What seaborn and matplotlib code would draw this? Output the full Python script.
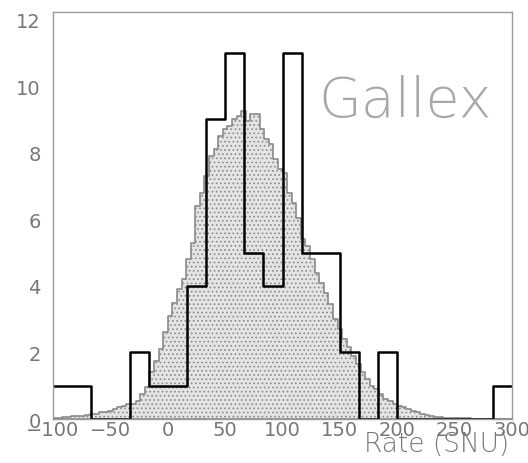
import matplotlib
matplotlib.use("Agg")
import matplotlib.pyplot as plt
import numpy as np
import pandas as pd
import seaborn as sns

# fine histogram (expected distribution), 4 SNU bins from -100 to 300
fine_centers = np.arange(-98, 300, 4)
fine_values = [
    0.03, 0.03, 0.05, 0.05, 0.08, 0.10, 0.10, 0.12, 0.15, 0.15,
    0.20, 0.22, 0.25, 0.30, 0.35, 0.40, 0.45, 0.45, 0.55, 0.75,
    0.95, 1.40, 1.75, 2.10, 2.60, 3.10, 3.50, 3.90, 4.20, 4.80,
    5.30, 6.40, 6.80, 7.30, 7.90, 8.10, 8.50, 8.70, 8.80, 9.00,
    9.10, 9.25, 8.95, 9.15, 9.15, 8.70, 8.40, 8.25, 7.80, 7.50,
    7.40, 6.80, 6.50, 6.05, 5.40, 5.20, 4.80, 4.40, 4.10, 3.80,
    3.45, 3.00, 2.70, 2.40, 2.15, 1.90, 1.65, 1.40, 1.20, 1.00,
    0.90, 0.75, 0.60, 0.55, 0.45, 0.40, 0.35, 0.30, 0.25, 0.20,
    0.15, 0.12, 0.10, 0.06, 0.05, 0.04, 0.03, 0.03, 0.02, 0.02,
    0.02, 0.01, 0.01, 0.01, 0.01, 0.00, 0.00, 0.00, 0.00, 0.00,
]

# measured runs, 24 bins from -100 to 300
run_counts = [1, 1, 0, 0, 2, 1, 1, 4, 9, 11, 5, 4, 11, 5, 5, 2, 0, 2, 0, 0, 0, 0, 0, 1]

fine_edges = np.linspace(-100, 300, 101).tolist()
run_edges = np.linspace(-100, 300, 25)
run_centers = (run_edges[:-1] + run_edges[1:]) / 2
run_edges = run_edges.tolist()

fine_df = pd.DataFrame({"rate": fine_centers, "w": fine_values})
run_df = pd.DataFrame({"rate": run_centers, "w": run_counts})

sns.set_style("white")
plt.rcParams["font.family"] = ["DejaVu Sans"]
plt.rcParams["hatch.color"] = "#a8a8a8"
plt.rcParams["hatch.linewidth"] = 0.7

fig = plt.figure(figsize=(5.28, 4.64), dpi=100)
ax = fig.add_axes([0.1004, 0.0948, 0.8693, 0.8772])

sns.histplot(data=fine_df, x="rate", weights="w", bins=fine_edges,
             element="step", fill=True, color="#e2e2e2", alpha=1,
             linewidth=1.2, ax=ax)
for coll in ax.collections:
    coll.set_hatch("....")
    coll.set_facecolor("#e4e4e4")
    coll.set_edgecolor("#8a8a8a")

sns.histplot(data=run_df, x="rate", weights="w", bins=run_edges,
             element="step", fill=False, color="black", linewidth=1.8, ax=ax)

ax.set_xlim(-100, 300)
ax.set_ylim(0, 12.23)
ax.set_xticks(np.arange(-100, 301, 50))
ax.set_xticks(np.arange(-100, 301, 25), minor=True)
ax.set_yticks(np.arange(0, 13, 2))
ax.set_yticks(np.arange(0, 12.1, 0.5), minor=True)
ax.tick_params(which="both", direction="in", color="#777777", width=1,
               labelcolor="#777777", labelsize=14)
ax.tick_params(which="major", length=5)
ax.tick_params(which="minor", length=3)
ax.tick_params(axis="x", which="both", top=False, pad=1)
ax.tick_params(axis="y", which="both", right=False, pad=9)
for s in ax.spines.values():
    s.set_color("#999999")
    s.set_linewidth(1)

ax.set_xlabel("")
ax.set_ylabel("")
fig.text(0.964, 0.042, "Rate (SNU)", ha="right", va="center",
         fontsize=19, color="#777777", fontweight="light")
ax.text(131.5, 9.55, "Gallex", ha="left", va="center", fontsize=40,
        color="#a8a8a8", fontweight="light")

fig.savefig("out.png", dpi=100)
